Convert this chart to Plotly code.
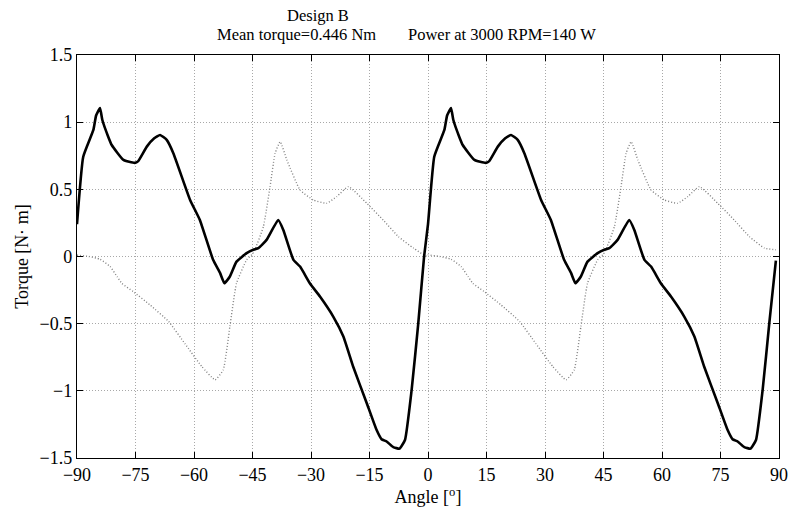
import plotly.graph_objects as go

# Solid line (torque) – angle [deg] and torque [N m]
solid_angle = [-90, -88.4, -85.8, -85.1, -84.1, -83.5, -82.0, -81.1, -78.1, -75.2, -74.3, -72.1, -70.2, -68.7, -67.0, -65.3,
               -61.0, -58.5, -55.1, -53.3, -52.2, -50.8, -49.1, -46.5, -44.8, -43.5, -41.4, -38.4, -37.1, -34.5,
               -32.8, -30.3, -27.7, -24.3, -21.7, -19.2, -15.7, -13.2, -11.9, -10.6, -8.9, -7.3, -5.9, -4.2, -2.5, -1.0,
               0, 1.6, 4.2, 4.9, 5.9, 6.5, 8.0, 8.9, 11.9, 14.8, 15.7, 17.9, 19.8, 21.3, 23.0, 24.7,
               29.0, 31.5, 34.9, 36.7, 37.8, 39.2, 40.9, 43.5, 45.2, 46.5, 48.6, 51.6, 52.9, 55.5,
               57.2, 59.7, 62.3, 65.7, 68.3, 70.8, 74.3, 76.8, 78.1, 79.4, 81.1, 82.7, 84.1, 85.8, 87.5, 89.2]
solid_torque = [0.24, 0.743, 0.942, 1.05, 1.105, 1.016, 0.892, 0.83, 0.719, 0.697, 0.71, 0.818, 0.88, 0.905, 0.868, 0.769,
                0.421, 0.272, -0.025, -0.124, -0.199, -0.149, -0.038, 0.025, 0.05, 0.062, 0.124, 0.272, 0.198, -0.025,
                -0.075, -0.199, -0.298, -0.447, -0.596, -0.819, -1.092, -1.29, -1.36, -1.377, -1.419, -1.43, -1.366, -0.994, -0.5, 0.0,
                0.24, 0.743, 0.942, 1.05, 1.105, 1.016, 0.892, 0.83, 0.719, 0.697, 0.71, 0.818, 0.88, 0.905, 0.868, 0.769,
                0.421, 0.272, -0.025, -0.124, -0.199, -0.149, -0.038, 0.025, 0.05, 0.062, 0.124, 0.272, 0.198, -0.025,
                -0.075, -0.199, -0.298, -0.447, -0.596, -0.819, -1.092, -1.29, -1.36, -1.377, -1.419, -1.43, -1.366, -0.994, -0.5, -0.03]

# Dotted line
dotted_angle = [-90, -87.0, -84.1, -81.5, -79.7, -78.5, -75.6, -71.3, -66.5, -62.3, -58.0, -54.6, -52.5, -50.8, -49.1,
                -46.5, -44.8, -42.2, -40.5, -39.2, -37.9, -36.2, -32.8, -29.4, -26.0, -23.4, -20.4, -15.7, -11.5, -7.6, -3.7, -0.3,
                0, 3.0, 5.9, 8.5, 10.3, 11.5, 14.4, 18.7, 23.5, 27.7, 32.0, 35.4, 37.5, 39.2, 40.9,
                43.5, 45.2, 47.8, 49.5, 50.8, 52.1, 53.8, 57.2, 60.6, 64.0, 66.6, 69.6, 74.3, 78.5, 82.4, 86.3, 89.2]
dotted_torque = [0.01, 0.0, -0.02, -0.075, -0.15, -0.2, -0.261, -0.36, -0.484, -0.65, -0.819, -0.918, -0.844, -0.522, -0.199,
                 -0.025, 0.025, 0.223, 0.52, 0.769, 0.855, 0.719, 0.495, 0.421, 0.396, 0.446, 0.52, 0.396, 0.272, 0.148, 0.062, 0.0,
                 0.01, 0.0, -0.02, -0.075, -0.15, -0.2, -0.261, -0.36, -0.484, -0.65, -0.819, -0.918, -0.844, -0.522, -0.199,
                 -0.025, 0.025, 0.223, 0.52, 0.769, 0.855, 0.719, 0.495, 0.421, 0.396, 0.446, 0.52, 0.396, 0.272, 0.148, 0.062, 0.05]

x_ticks = [-90, -75, -60, -45, -30, -15, 0, 15, 30, 45, 60, 75, 90]
y_ticks = [-1.5, -1, -0.5, 0, 0.5, 1, 1.5]
y_tick_labels = ["\u22121.5", "\u22121", "\u22120.5", "0", "0.5", "1", "1.5"]
x_tick_labels = [("\u2212" + str(abs(v))) if v < 0 else str(v) for v in x_ticks]

FONT = "Liberation Serif, Times New Roman, serif"

fig = go.Figure()
fig.add_trace(go.Scatter(x=dotted_angle, y=dotted_torque, mode="lines",
                         line=dict(color="#808080", width=1.4, dash="1px,2px", shape="spline", smoothing=0.4),
                         showlegend=False))
fig.add_trace(go.Scatter(x=solid_angle, y=solid_torque, mode="lines",
                         line=dict(color="black", width=2.6, shape="spline", smoothing=0.4), showlegend=False))

L, R, T, B = 77, 12, 55, 52
W, H = 791, 510
pw = W - L - R
ph = H - T - B

def px_x(px):
    return (px - L) / pw

def px_y(py):
    return (H - B - py) / ph

axis_common = dict(ticks="inside", ticklen=6, tickcolor="black", tickwidth=1,
                   showline=True, linecolor="black", linewidth=1.3, mirror="allticks",
                   showgrid=True, gridcolor="#a8a8a8", griddash="1px,2px", gridwidth=1,
                   zeroline=False, automargin=False, tickfont=dict(size=18, family=FONT))

fig.update_layout(
    width=W, height=H,
    margin=dict(l=L, r=R, t=T, b=B, pad=0),
    paper_bgcolor="white", plot_bgcolor="white",
    font=dict(family=FONT, color="black", size=18),
    xaxis=dict(range=[-90, 90], tickmode="array", tickvals=x_ticks, ticktext=x_tick_labels,
               title=dict(text="Angle [<sup>o</sup>]", font=dict(size=18, family=FONT), standoff=2),
               **axis_common),
    yaxis=dict(range=[-1.5, 1.5], tickmode="array", tickvals=y_ticks, ticktext=y_tick_labels,
               title=dict(text="Torque [N\u22c5 m]", font=dict(size=18, family=FONT), standoff=6),
               **axis_common),
    annotations=[
        dict(text="Design B", xref="paper", yref="paper", x=px_x(318), y=px_y(5),
             xanchor="center", yanchor="top", showarrow=False, borderpad=0, font=dict(size=16.5, family=FONT)),
        dict(text="Mean torque=0.446 Nm", xref="paper", yref="paper", x=px_x(216), y=px_y(24),
             xanchor="left", yanchor="top", showarrow=False, borderpad=0, font=dict(size=16.5, family=FONT)),
        dict(text="Power at 3000 RPM=140 W", xref="paper", yref="paper", x=px_x(407), y=px_y(24),
             xanchor="left", yanchor="top", showarrow=False, borderpad=0, font=dict(size=16.5, family=FONT)),
    ],
)

fig.write_html("out.html", config={"displayModeBar": False},
               post_script="document.body.style.margin='0px';")
